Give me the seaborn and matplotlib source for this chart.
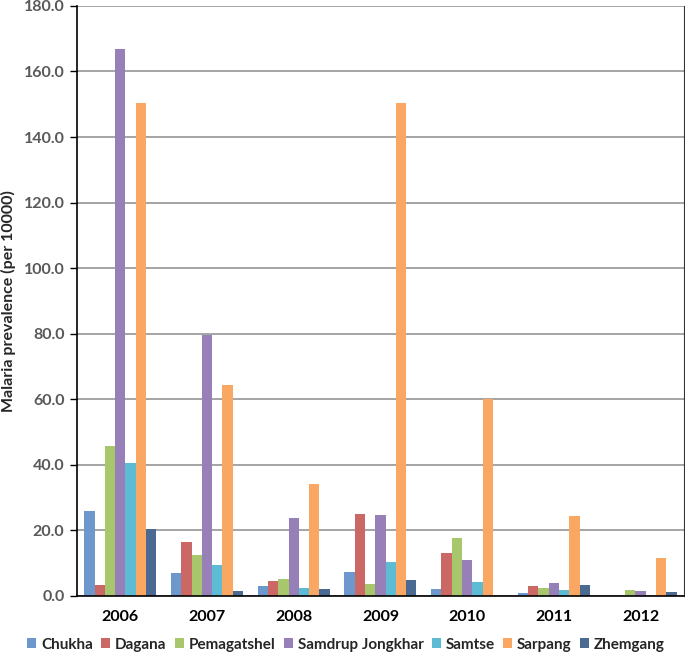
import matplotlib
matplotlib.use("Agg")
import matplotlib.pyplot as plt
import seaborn as sns
import pandas as pd
from matplotlib.patches import Patch

years = ["2006", "2007", "2008", "2009", "2010", "2011", "2012"]
districts = ["Chukha", "Dagana", "Pemagatshel", "Samdrup Jongkhar", "Samtse", "Sarpang", "Zhemgang"]
chukha = [25.8, 7.0, 3.0, 7.3, 2.0, 1.0, 0.1]
dagana = [3.4, 16.4, 4.6, 25.1, 13.1, 3.0, 0.0]
pemagatshel = [45.8, 12.5, 5.1, 3.8, 17.6, 2.3, 1.9]
samdrup = [167.0, 79.5, 23.8, 24.7, 11.1, 4.1, 1.4]
samtse = [40.5, 9.4, 2.3, 10.5, 4.3, 1.8, 0.0]
sarpang = [150.3, 64.3, 34.2, 150.5, 60.2, 24.3, 11.5]
zhemgang = [20.4, 1.4, 2.0, 4.9, 0.0, 3.3, 1.3]

colors = ["#6D98CE", "#CB6866", "#A8C66C", "#9780B7", "#5DBCD3", "#F9A762", "#4A6A92"]

series = [chukha, dagana, pemagatshel, samdrup, samtse, sarpang, zhemgang]
rows = []
for d, vals in zip(districts, series):
    for y, v in zip(years, vals):
        rows.append({"Year": y, "District": d, "Value": v})
df = pd.DataFrame(rows)

sns.set_style("white")
plt.rcParams["font.family"] = ["Lato", "DejaVu Sans"]

fig = plt.figure(figsize=(6.85, 6.59), dpi=100)
ax = fig.add_axes([0.1124, 0.0956, 0.886, 0.8954])

sns.barplot(data=df, x="Year", y="Value", hue="District", order=years,
            hue_order=districts, palette=colors, width=0.83, saturation=1,
            edgecolor="none", linewidth=0, ax=ax, legend=False)

ax.set_ylim(0, 180)
ax.set_yticks(range(0, 181, 20))
ax.set_yticklabels([f"{v:.1f}" for v in range(0, 181, 20)], fontsize=11.5,
                   fontweight="bold", color="#595959")
ax.set_xticklabels(years, fontsize=11.5, fontweight="bold", color="black")
ax.set_xlabel("")
ax.set_ylabel("Malaria prevalence (per 10000)", fontsize=11.5, fontweight="bold")
ax.yaxis.set_label_coords(-0.1, 0.5)
ax.yaxis.grid(True, color="#8c8c8c", linewidth=1.1)
ax.set_axisbelow(True)
for s in ["left", "bottom"]:
    ax.spines[s].set_color("black")
    ax.spines[s].set_linewidth(1.2)
ax.spines["top"].set_visible(False)
ax.spines["right"].set_visible(True)
ax.spines["right"].set_color("#333333")
ax.tick_params(axis="y", length=5, width=1, color="black", direction="out", left=True, pad=4)
ax.tick_params(axis="x", length=0, pad=10)

handles = [Patch(facecolor=c, edgecolor="none") for c in colors]
fig.legend(handles, districts, loc="center", bbox_to_anchor=(0.505, 0.022), ncol=7,
           frameon=False, handlelength=0.6, handleheight=0.6, handletextpad=0.3,
           columnspacing=0.55, prop={"weight": "bold", "size": 11})

fig.savefig("out.png", dpi=100)
